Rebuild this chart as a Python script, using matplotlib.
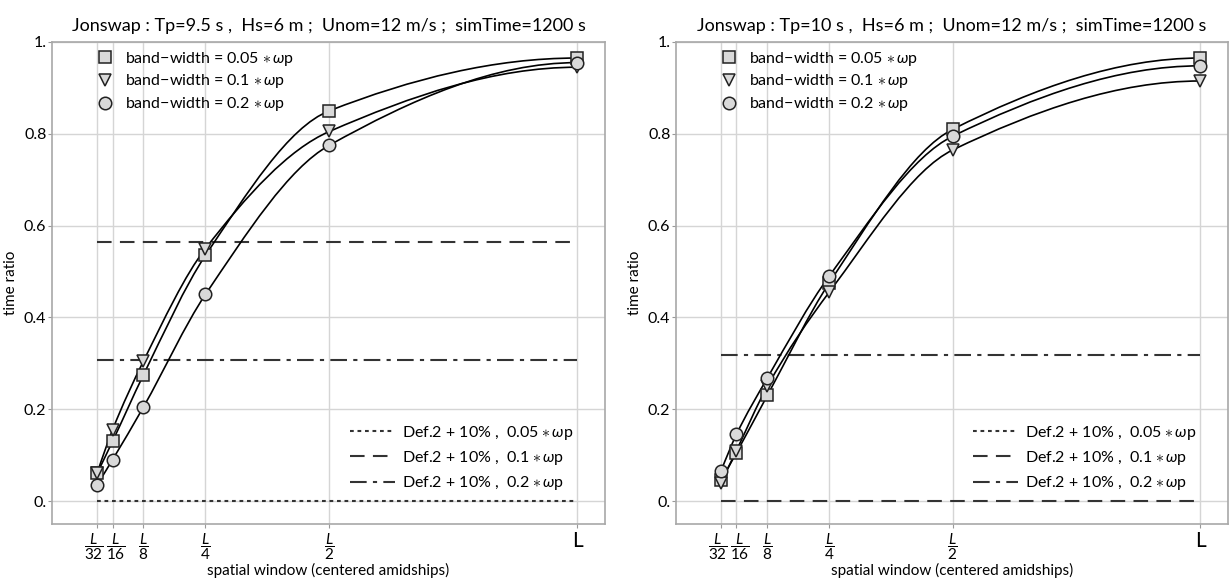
import numpy as np
import matplotlib.pyplot as plt
from matplotlib.path import Path
from matplotlib.patches import PathPatch
from matplotlib.lines import Line2D

plt.rcParams['font.family'] = ['Lato', 'DejaVu Sans']
plt.rcParams['mathtext.fontset'] = 'custom'
plt.rcParams['mathtext.rm'] = 'Lato'
plt.rcParams['mathtext.it'] = 'Lato:italic'

# spatial window as fraction of ship length L
windows = [1/32, 1/16, 1/8, 1/4, 1/2, 1]
win_labels = [r'$\dfrac{L}{32}$', r'$\dfrac{L}{16}$', r'$\dfrac{L}{8}$',
              r'$\dfrac{L}{4}$', r'$\dfrac{L}{2}$', 'L']
yticks = [0, 0.2, 0.4, 0.6, 0.8, 1.0]
ytick_labels = ['0.', '0.2', '0.4', '0.6', '0.8', '1.']

titles = ['Jonswap : Tp=9.5 s ,  Hs=6 m ;  Unom=12 m/s ;  simTime=1200 s',
          'Jonswap : Tp=10 s ,  Hs=6 m ;  Unom=12 m/s ;  simTime=1200 s']
bw_labels = [r'band$-$width = 0.05 $\ast\,\omega$p',
             r'band$-$width = 0.1 $\ast\,\omega$p',
             r'band$-$width = 0.2 $\ast\,\omega$p']
def_labels = [r'Def.2 + 10% ,  0.05 $\ast\,\omega$p',
              r'Def.2 + 10% ,  0.1 $\ast\,\omega$p',
              r'Def.2 + 10% ,  0.2 $\ast\,\omega$p']

# time ratio, Tp = 9.5 s
tp95_bw005 = [0.06, 0.13, 0.275, 0.535, 0.85, 0.965]
tp95_bw01 = [0.06, 0.155, 0.305, 0.55, 0.805, 0.945]
tp95_bw02 = [0.035, 0.09, 0.205, 0.45, 0.775, 0.955]
tp95_limits = [0.0, 0.565, 0.307]

# time ratio, Tp = 10 s
tp10_bw005 = [0.045, 0.105, 0.23, 0.475, 0.81, 0.965]
tp10_bw01 = [0.04, 0.11, 0.25, 0.455, 0.765, 0.915]
tp10_bw02 = [0.065, 0.145, 0.268, 0.49, 0.795, 0.948]
tp10_limits = [np.nan, 0.0, 0.318]

markers = ['s', 'v', 'o']
limit_styles = [(0, (1.8, 1.8)), (0, (7, 4)), (0, (8, 3, 2, 3))]
fill = '#d9d9d9'
# horizontal nudge (points) of the crowded L/32 and L/16 labels
label_nudge = [-2.6, 2.6, 0, 0, 0, 0]


def smooth_path(x, y):
    # monotone cubic (pchip) drawn as bezier segments
    x = np.asarray(x, float)
    y = np.asarray(y, float)
    h = np.diff(x)
    d = np.diff(y) / h
    n = len(x)
    m = np.zeros(n)
    for k in range(1, n - 1):
        if d[k - 1] * d[k] > 0:
            w1 = 2 * h[k] + h[k - 1]
            w2 = h[k] + 2 * h[k - 1]
            m[k] = (w1 + w2) / (w1 / d[k - 1] + w2 / d[k])
    m0 = ((2 * h[0] + h[1]) * d[0] - h[0] * d[1]) / (h[0] + h[1])
    m[0] = m0 if m0 * d[0] > 0 else 0
    mn = ((2 * h[-1] + h[-2]) * d[-1] - h[-1] * d[-2]) / (h[-1] + h[-2])
    m[-1] = mn if mn * d[-1] > 0 else 0
    verts = [(x[0], y[0])]
    codes = [Path.MOVETO]
    for k in range(n - 1):
        verts += [(x[k] + h[k] / 3, y[k] + m[k] * h[k] / 3),
                  (x[k + 1] - h[k] / 3, y[k + 1] - m[k + 1] * h[k] / 3),
                  (x[k + 1], y[k + 1])]
        codes += [Path.CURVE4] * 3
    return Path(verts, codes)


fig = plt.figure(figsize=(12.3, 5.79), dpi=100)
ax1 = fig.add_axes([0.0423, 0.095, 0.4496, 0.8325])
ax2 = fig.add_axes([0.5496, 0.095, 0.449, 0.8325])

panels = [(ax1, titles[0], [tp95_bw005, tp95_bw01, tp95_bw02], tp95_limits),
          (ax2, titles[1], [tp10_bw005, tp10_bw01, tp10_bw02], tp10_limits)]

for ax, title, series, limits in panels:
    for val, ls in zip(limits, limit_styles):
        ax.plot([windows[0], windows[-1]], [val, val], color='#333333',
                lw=1.5, linestyle=ls, zorder=2)
    for s in series:
        ax.add_patch(PathPatch(smooth_path(windows, s), facecolor='none',
                               edgecolor='black', lw=1.2, zorder=3))
    for s, mk in zip(series, markers):
        ax.plot(windows, s, linestyle='none', marker=mk, markersize=9,
                markerfacecolor=fill, markeredgecolor='#222222',
                markeredgewidth=1.1, zorder=4)

    ax.set_xlim(-0.0596, 1.0565)
    ax.set_ylim(-0.05, 0.998)
    ax.set_xticks(windows)
    ax.set_xticklabels([])
    for w, lab, dx in zip(windows, win_labels, label_nudge):
        size = 15 if lab == 'L' else 11
        ax.annotate(lab, xy=(w, 0), xycoords=ax.get_xaxis_transform(),
                    xytext=(dx, -5), textcoords='offset points',
                    ha='center', va='top', fontsize=size)
    ax.set_yticks(yticks)
    ax.set_yticklabels(ytick_labels)
    ax.tick_params(axis='y', labelsize=11.5, length=3, width=0.8,
                   color='#999999', pad=1)
    ax.tick_params(axis='x', length=3, width=0.8, color='#999999')
    ax.grid(True, color='#d5d5d5', lw=1)
    ax.set_axisbelow(True)
    for sp in ax.spines.values():
        sp.set_color('#a8a8a8')
        sp.set_linewidth(1.2)
    ax.set_title(title, fontsize=13, pad=8)
    ax.set_xlabel('spatial window (centered amidships)', fontsize=11)
    ax.xaxis.set_label_coords(0.5, -0.08)
    ax.set_ylabel('time ratio', fontsize=11, labelpad=4)

    bw_handles = [Line2D([], [], linestyle='none', marker=mk, markersize=9,
                         markerfacecolor=fill, markeredgecolor='#222222',
                         markeredgewidth=1.1) for mk in markers]
    leg1 = ax.legend(bw_handles, bw_labels, loc='upper left',
                     bbox_to_anchor=(0.064, 1.004), frameon=False,
                     fontsize=11.5, handlelength=1.0, handletextpad=0.75,
                     labelspacing=0.3, borderaxespad=0.2)
    ax.add_artist(leg1)
    def_handles = [Line2D([], [], color='#333333', lw=1.5, linestyle=ls)
                   for ls in limit_styles]
    ax.legend(def_handles, def_labels, loc='lower right',
              bbox_to_anchor=(0.96, 0.046), frameon=False, fontsize=11.5,
              handlelength=2.8, handletextpad=0.45, labelspacing=0.45,
              borderaxespad=0.2)

fig.savefig('out.png', dpi=100)
